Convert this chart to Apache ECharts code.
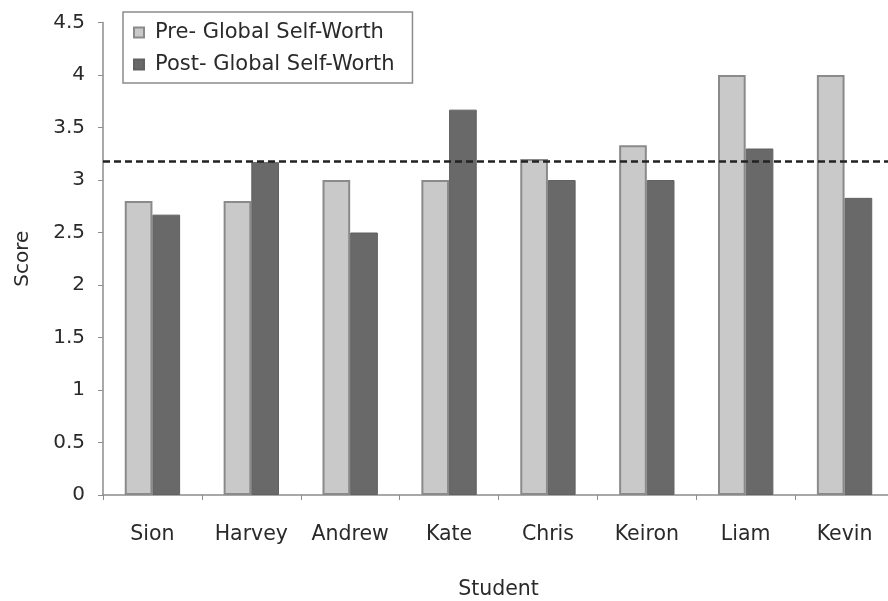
<!DOCTYPE html>
<html>
<head>
<meta charset="utf-8">
<script src="https://cdn.jsdelivr.net/npm/echarts@6/dist/echarts.min.js"></script>
<style>
  html, body { margin: 0; padding: 0; background: #fff; }
  #chart { width: 888px; height: 601px; }
</style>
</head>
<body>
<div id="chart"></div>
<script>
// Students and their global self-worth scores before and after
const students = ['Sion', 'Harvey', 'Andrew', 'Kate', 'Chris', 'Keiron', 'Liam', 'Kevin'];
const preScores = [2.8, 2.8, 3.0, 3.0, 3.2, 3.33, 4.0, 4.0];
const postScores = [2.67, 3.17, 2.5, 3.67, 3.0, 3.0, 3.3, 2.83];
const referenceScore = 3.18;
const yTicks = [0, 0.5, 1, 1.5, 2, 2.5, 3, 3.5, 4, 4.5];

const font = '"DejaVu Sans", Arial, sans-serif';
const textColor = '#2a2a2a';
const axisColor = '#8c8c8c';
const chart = echarts.init(document.getElementById('chart'));

chart.setOption({
  animation: false,
  backgroundColor: '#fff',
  grid: {
    left: 103, right: -6, top: 22.5, bottom: 106,
    containLabel: false,
    outerBoundsMode: 'none'
  },
  legend: {
    orient: 'vertical',
    left: 123,
    top: 12,
    padding: [10, 18, 8, 10],
    itemGap: 11,
    itemWidth: 10,
    itemHeight: 10,
    borderColor: axisColor,
    borderWidth: 1.5,
    textStyle: { fontFamily: font, fontSize: 21, color: textColor, padding: [0, 0, 0, 6] },
    data: [
      { name: 'Pre- Global Self-Worth', icon: 'rect' },
      { name: 'Post- Global Self-Worth', icon: 'rect' }
    ]
  },
  xAxis: {
    type: 'category',
    data: students,
    name: 'Student',
    nameLocation: 'middle',
    nameGap: 84,
    nameTextStyle: { fontFamily: font, fontSize: 20.5, color: textColor },
    axisLine: { lineStyle: { color: axisColor, width: 1.5 } },
    axisTick: { show: true, length: 5, alignWithLabel: false, lineStyle: { color: axisColor } },
    axisLabel: { interval: 0, fontFamily: font, fontSize: 20.5, color: textColor, margin: 29 }
  },
  yAxis: {
    type: 'value',
    min: 0,
    max: 4.5,
    interval: 0.5,
    name: 'Score',
    nameLocation: 'middle',
    nameGap: 70,
    nameTextStyle: { fontFamily: font, fontSize: 20, color: textColor },
    splitLine: { show: false },
    axisLine: { show: true, lineStyle: { color: axisColor, width: 1.5 } },
    axisTick: { show: true, length: 5, lineStyle: { color: axisColor } },
    axisLabel: {
      fontFamily: font, fontSize: 20, color: textColor, margin: 18,
      formatter: v => (yTicks.includes(v) ? String(v) : '')
    }
  },
  series: [
    {
      name: 'Pre- Global Self-Worth',
      type: 'bar',
      data: preScores,
      barWidth: '28%',
      barGap: '0%',
      itemStyle: { color: '#c9c9c9', borderColor: '#8a8a8a', borderWidth: 2 },
      markLine: {
        silent: true,
        symbol: 'none',
        label: { show: false },
        lineStyle: { color: '#222', type: [7, 4], width: 2.5 },
        data: [{ yAxis: referenceScore }]
      }
    },
    {
      name: 'Post- Global Self-Worth',
      type: 'bar',
      data: postScores,
      barWidth: '28%',
      itemStyle: { color: '#696969', borderColor: '#616161', borderWidth: 1 }
    }
  ]
});
</script>
</body>
</html>
